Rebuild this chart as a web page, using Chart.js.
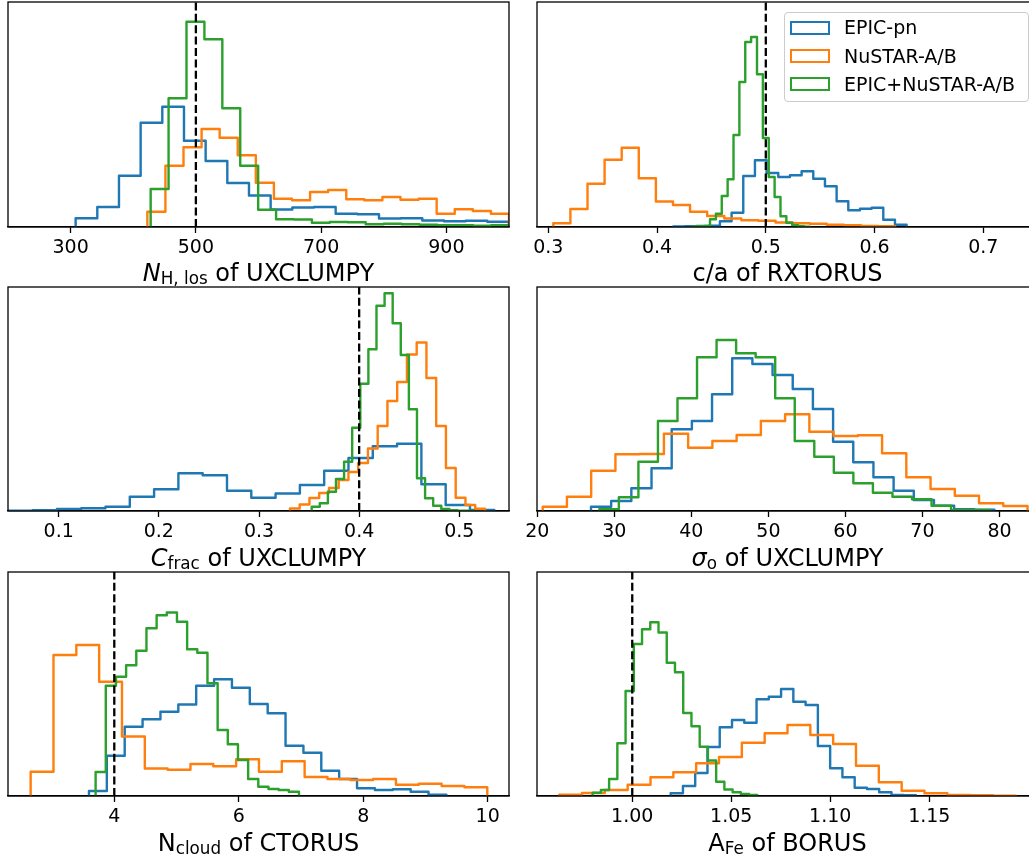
<!DOCTYPE html>
<html lang="en">
<head>
<meta charset="UTF-8">
<title>Parameter posteriors</title>
<script src="https://cdn.jsdelivr.net/npm/chart.js"></script>
<style>
    body {
        margin: 0;
        width: 1029px;
        height: 860px;
        overflow: hidden;
        position: relative;
        background: #fff;
        font-family: "DejaVu Sans", sans-serif;
        color: #000;
    }
    canvas { position: absolute; }
    .xlabel {
        position: absolute;
        width: 501px;
        text-align: center;
        font-size: 24px;
        line-height: 24px;
        white-space: nowrap;
    }
    .xlabel .sub { font-size: 0.7em; position: relative; top: 0.22em; }
    #legend {
        position: absolute;
        left: 784px; top: 12px;
        width: 245px; height: 90px;
        box-sizing: border-box;
        border: 1px solid #ccc;
        border-radius: 4px;
        background: rgba(255, 255, 255, 0.8);
    }
    .patch { position: absolute; width: 40px; height: 14px; box-sizing: border-box; border: 2px solid; }
    .entry { position: absolute; font-size: 19px; line-height: 19px; white-space: nowrap; }
</style>
</head>
<body>
<div id="legend"></div>

<script>
    const seriesNames = ['EPIC-pn', 'NuSTAR-A/B', 'EPIC+NuSTAR-A/B'];
    const seriesColors = ['#1f77b4', '#ff7f0e', '#2ca02c'];

    // N_H,los of UXCLUMPY
    const nhRange = [200, 1000];
    const nhTicks = [300, 500, 700, 900];
    const nhTickLabels = ['300', '500', '700', '900'];
    const nhInput = 500;
    const nhStart = [308, 422.5, 427.8];
    const nhWidth = [34.6, 28.875, 28.61];
    const nhPn = [8.7, 20, 51.3, 104.3, 120.3, 86.3, 66, 44, 31.5, 17.5, 19.5, 20, 13.3, 12.8, 8.5, 8.7, 6.5, 5.7, 6.3, 5.2];
    const nhNu = [15.3, 61.3, 79.7, 98, 89.3, 71.7, 44.3, 28.3, 26.7, 35, 37, 27.7, 26.7, 30, 27.3, 28.3, 13.3, 17.7, 16, 13.3];
    const nhJoint = [38, 128.7, 205.3, 187.7, 118.7, 61.3, 17.3, 7.7, 7.5, 4.3, 5, 4.7, 2.7, 3.3, 2.7, 2.2, 1.7, 1.7, 1.3, 1.7];

    // c/a of RXTORUS
    const caRange = [0.2896, 0.7503];
    const caTicks = [0.3, 0.4, 0.5, 0.6, 0.7];
    const caTickLabels = ['0.3', '0.4', '0.5', '0.6', '0.7'];
    const caInput = 0.5;
    const caStart = [0.4149, 0.3046, 0.4325];
    const caWidth = [0.01073, 0.01572, 0.0054];
    const caPn = [0.5, 0.7, 1.0, 1.3, 5.7, 14.3, 51, 66.7, 54, 50, 51.7, 55.7, 48.3, 40.7, 25.7, 16.7, 18.3, 19.3, 7.3, 2.3];
    const caNu = [3.7, 18, 43.3, 67.3, 79.3, 48.7, 25.5, 22, 15.2, 11, 8.5, 6.8, 6.2, 4.5, 3.8, 3.2, 2.2, 1.8, 1.1, 0.8];
    const caJoint = [0.5, 0.7, 1.0, 7.7, 13.3, 31, 47.7, 92, 145, 185, 190, 152.7, 89, 50, 30, 10.7, 4.3, 1.7, 0.7, 0.4];

    // C_frac of UXCLUMPY
    const cfRange = [0.0494, 0.5496];
    const cfTicks = [0.1, 0.2, 0.3, 0.4, 0.5];
    const cfTickLabels = ['0.1', '0.2', '0.3', '0.4', '0.5'];
    const cfInput = 0.4;
    const cfStart = [0.0497, 0.3309, 0.3526];
    const cfWidth = [0.02426, 0.009734, 0.008087];
    const cfPn = [0.3, 0.7, 2, 2.7, 4.3, 14.3, 21.7, 37.7, 35.7, 20.3, 13.3, 17.5, 26, 40.2, 53, 64.8, 67.3, 26.8, 6, 1];
    const cfNu = [2.5, 6.5, 13, 18, 23, 31, 39, 48, 62.5, 85, 110, 129, 156.5, 168.5, 133, 85, 43, 13.3, 6, 2.2];
    const cfJoint = [4.3, 7.7, 19.3, 32, 49.3, 83.3, 127.3, 161.7, 205.3, 217.7, 187.7, 156, 101.7, 32.7, 12.7, 5.3, 2, 0.7, 0.3, 0.2];

    // sigma_o of UXCLUMPY (no input value marked)
    const sgRange = [19.96, 85.0];
    const sgTicks = [20, 30, 40, 50, 60, 70, 80];
    const sgTickLabels = ['20', '30', '40', '50', '60', '70', '80'];
    const sgInput = null;
    const sgStart = [26.97, 20.70, 28.05];
    const sgWidth = [2.619, 3.147, 2.537];
    const sgPn = [4.3, 10, 22.7, 42.7, 81.7, 90, 116.7, 152.7, 147, 136, 122, 102, 69.3, 48.7, 33.7, 20.3, 11, 5.3, 1.7, 1.3];
    const sgNu = [4.3, 14.3, 40.3, 56.7, 57, 77.3, 63.3, 70, 76, 90, 96.7, 79.3, 75, 75.7, 57.7, 33.7, 22, 15.3, 7.7, 5];
    const sgJoint = [1.7, 13.7, 49.3, 90, 112.7, 153.7, 171, 157.7, 153.7, 112.7, 70, 54.3, 38.3, 27.7, 18.3, 14.3, 11.7, 5.3, 1, 1];

    // N_cloud of CTORUS
    const ncRange = [2.292, 10.343];
    const ncTicks = [4, 6, 8, 10];
    const ncTickLabels = ['4', '6', '8', '10'];
    const ncInput = 4;
    const ncStart = [3.593, 2.656, 3.700];
    const ncWidth = [0.2872, 0.3669, 0.1634];
    const ncPn = [5, 40.3, 69.3, 76.7, 84.3, 91.5, 110.3, 116.7, 108.3, 92, 82.7, 50.3, 43.3, 25.3, 17, 7.7, 6, 6.7, 4.3, 1.3];
    const ncNu = [24.3, 141, 151, 114.3, 59.5, 27.5, 26.2, 32, 29.7, 36.7, 24.3, 34.7, 19, 17, 16, 17, 11.3, 12.3, 10, 8.7];
    const ncJoint = [24, 110.3, 119.3, 130.8, 145.3, 167.7, 180.8, 183.5, 174.3, 146.7, 143.3, 112.7, 66, 51.7, 36, 17, 9.3, 7, 6, 4.3];

    // A_Fe of BORUS
    const feRange = [0.9519, 1.2049];
    const feTicks = [1.00, 1.05, 1.10, 1.15];
    const feTickLabels = ['1.00', '1.05', '1.10', '1.15'];
    const feInput = 1.0;
    const feStart = [1.0194, 0.9631, 0.9800];
    const feWidth = [0.006195, 0.01153, 0.004158];
    const fePn = [2.7, 10, 23, 49, 68.8, 76, 73.3, 96.7, 99.3, 107, 94.3, 91, 50, 27.7, 18.7, 8.3, 7, 3.7, 1, 0.7];
    const feNu = [1.3, 3, 6, 11.3, 18.7, 23.8, 32.7, 39, 53.3, 62.7, 71, 61, 52, 30.3, 13.7, 5.3, 2.7, 1, 0.7, 0.3];
    const feJoint = [3.3, 6, 17, 52.7, 105, 152, 166.7, 173.7, 163.5, 133.2, 123.8, 83, 69.8, 49.3, 35.5, 14.3, 6.5, 3.8, 2, 1];

    // plot boxes: left, top, width, height (px)
    const panelAreas = [
        [8, 2, 501, 225], [537, 2, 501, 225],
        [8, 287, 501, 224], [537, 287, 501, 224],
        [8, 572, 501, 224], [537, 572, 501, 224]
    ];
    const labelTops = [260.7, 545.7, 830.7];

    const panels = [
        { range: nhRange, ticks: nhTicks, labels: nhTickLabels, input: nhInput, start: nhStart, width: nhWidth,
          hists: [nhPn, nhNu, nhJoint], title: '<i>N</i><span class="sub">H, los</span> of UXCLUMPY' },
        { range: caRange, ticks: caTicks, labels: caTickLabels, input: caInput, start: caStart, width: caWidth,
          hists: [caPn, caNu, caJoint], title: 'c/a of RXTORUS' },
        { range: cfRange, ticks: cfTicks, labels: cfTickLabels, input: cfInput, start: cfStart, width: cfWidth,
          hists: [cfPn, cfNu, cfJoint], title: '<i>C</i><span class="sub">frac</span> of UXCLUMPY' },
        { range: sgRange, ticks: sgTicks, labels: sgTickLabels, input: sgInput, start: sgStart, width: sgWidth,
          hists: [sgPn, sgNu, sgJoint], title: '<i>σ</i><span class="sub">o</span> of UXCLUMPY' },
        { range: ncRange, ticks: ncTicks, labels: ncTickLabels, input: ncInput, start: ncStart, width: ncWidth,
          hists: [ncPn, ncNu, ncJoint], title: 'N<span class="sub">cloud</span> of CTORUS' },
        { range: feRange, ticks: feTicks, labels: feTickLabels, input: feInput, start: feStart, width: feWidth,
          hists: [fePn, feNu, feJoint], title: 'A<span class="sub">Fe</span> of BORUS' }
    ];

    const PAD = 30, TOP_PAD = 6, AXIS_H = 44;

    // outline of a step histogram (no baseline), like histtype='step'
    function stepOutline(start, width, heights) {
        const pts = [{ x: start, y: 0 }];
        heights.forEach((h, i) => {
            pts.push({ x: start + i * width, y: h }, { x: start + (i + 1) * width, y: h });
        });
        pts.push({ x: start + heights.length * width, y: 0 });
        return pts;
    }

    // black box around the plotting area
    const frame = {
        id: 'frame',
        afterDatasetsDraw(chart) {
            const a = chart.chartArea, c = chart.ctx;
            c.save();
            c.strokeStyle = '#000';
            c.lineWidth = 1.3;
            c.strokeRect(a.left, a.top, a.right - a.left, a.bottom - a.top);
            c.restore();
        }
    };

    panels.forEach((p, n) => {
        const [left, top, w, h] = panelAreas[n];
        const cv = document.createElement('canvas');
        const cw = w + 2 * PAD, ch = TOP_PAD + h + AXIS_H;
        cv.width = cw; cv.height = ch;
        cv.style.width = cw + 'px'; cv.style.height = ch + 'px';
        cv.style.left = (left - PAD) + 'px';
        cv.style.top = (top - TOP_PAD) + 'px';
        document.body.appendChild(cv);

        const datasets = p.hists.map((hs, k) => ({
            label: seriesNames[k],
            data: stepOutline(p.start[k], p.width[k], hs),
            borderColor: seriesColors[k],
            borderWidth: 2.4,
            borderJoinStyle: 'round',
            pointRadius: 0,
            fill: false,
            tension: 0,
            order: 3 - k
        }));
        if (p.input !== null) {
            datasets.push({
                label: 'input',
                data: [{ x: p.input, y: 0 }, { x: p.input, y: h }],
                borderColor: '#000',
                borderWidth: 2.3,
                borderDash: [8, 3.4],
                pointRadius: 0,
                fill: false,
                order: 0
            });
        }

        new Chart(cv.getContext('2d'), {
            type: 'line',
            data: { datasets },
            options: {
                responsive: false,
                animation: false,
                devicePixelRatio: 1,
                layout: { padding: { left: PAD, right: PAD, top: TOP_PAD, bottom: 0 } },
                plugins: { legend: { display: false }, tooltip: { enabled: false } },
                scales: {
                    x: {
                        type: 'linear',
                        position: 'bottom',
                        min: p.range[0],
                        max: p.range[1],
                        bounds: 'data',
                        afterBuildTicks: s => { s.ticks = p.ticks.map(v => ({ value: v })); },
                        afterFit: s => { s.height = AXIS_H; },
                        ticks: {
                            color: '#000',
                            font: { family: 'DejaVu Sans', size: 19 },
                            padding: 4,
                            maxRotation: 0,
                            autoSkip: false,
                            callback: (v, i) => p.labels[i]
                        },
                        grid: { drawOnChartArea: false, drawTicks: true, tickLength: 6, tickWidth: 1.3, tickColor: '#000' },
                        border: { display: true, color: '#000', width: 1.3 }
                    },
                    y: { display: false, min: 0, max: h }
                }
            },
            plugins: [frame]
        });

        const lab = document.createElement('div');
        lab.className = 'xlabel';
        lab.style.left = left + 'px';
        lab.style.top = labelTops[Math.floor(n / 2)] + 'px';
        lab.innerHTML = p.title;
        document.body.appendChild(lab);
    });

    // legend in the c/a panel
    seriesNames.forEach((name, k) => {
        const cy = 27.5 + k * 28.3;
        const patch = document.createElement('div');
        patch.className = 'patch';
        patch.style.left = '790px';
        patch.style.top = (cy - 7) + 'px';
        patch.style.borderColor = seriesColors[k];
        document.body.appendChild(patch);
        const txt = document.createElement('div');
        txt.className = 'entry';
        txt.style.left = '844px';
        txt.style.top = (cy + 6.8 - 16.1) + 'px';
        txt.textContent = name;
        document.body.appendChild(txt);
    });
</script>
</body>
</html>
